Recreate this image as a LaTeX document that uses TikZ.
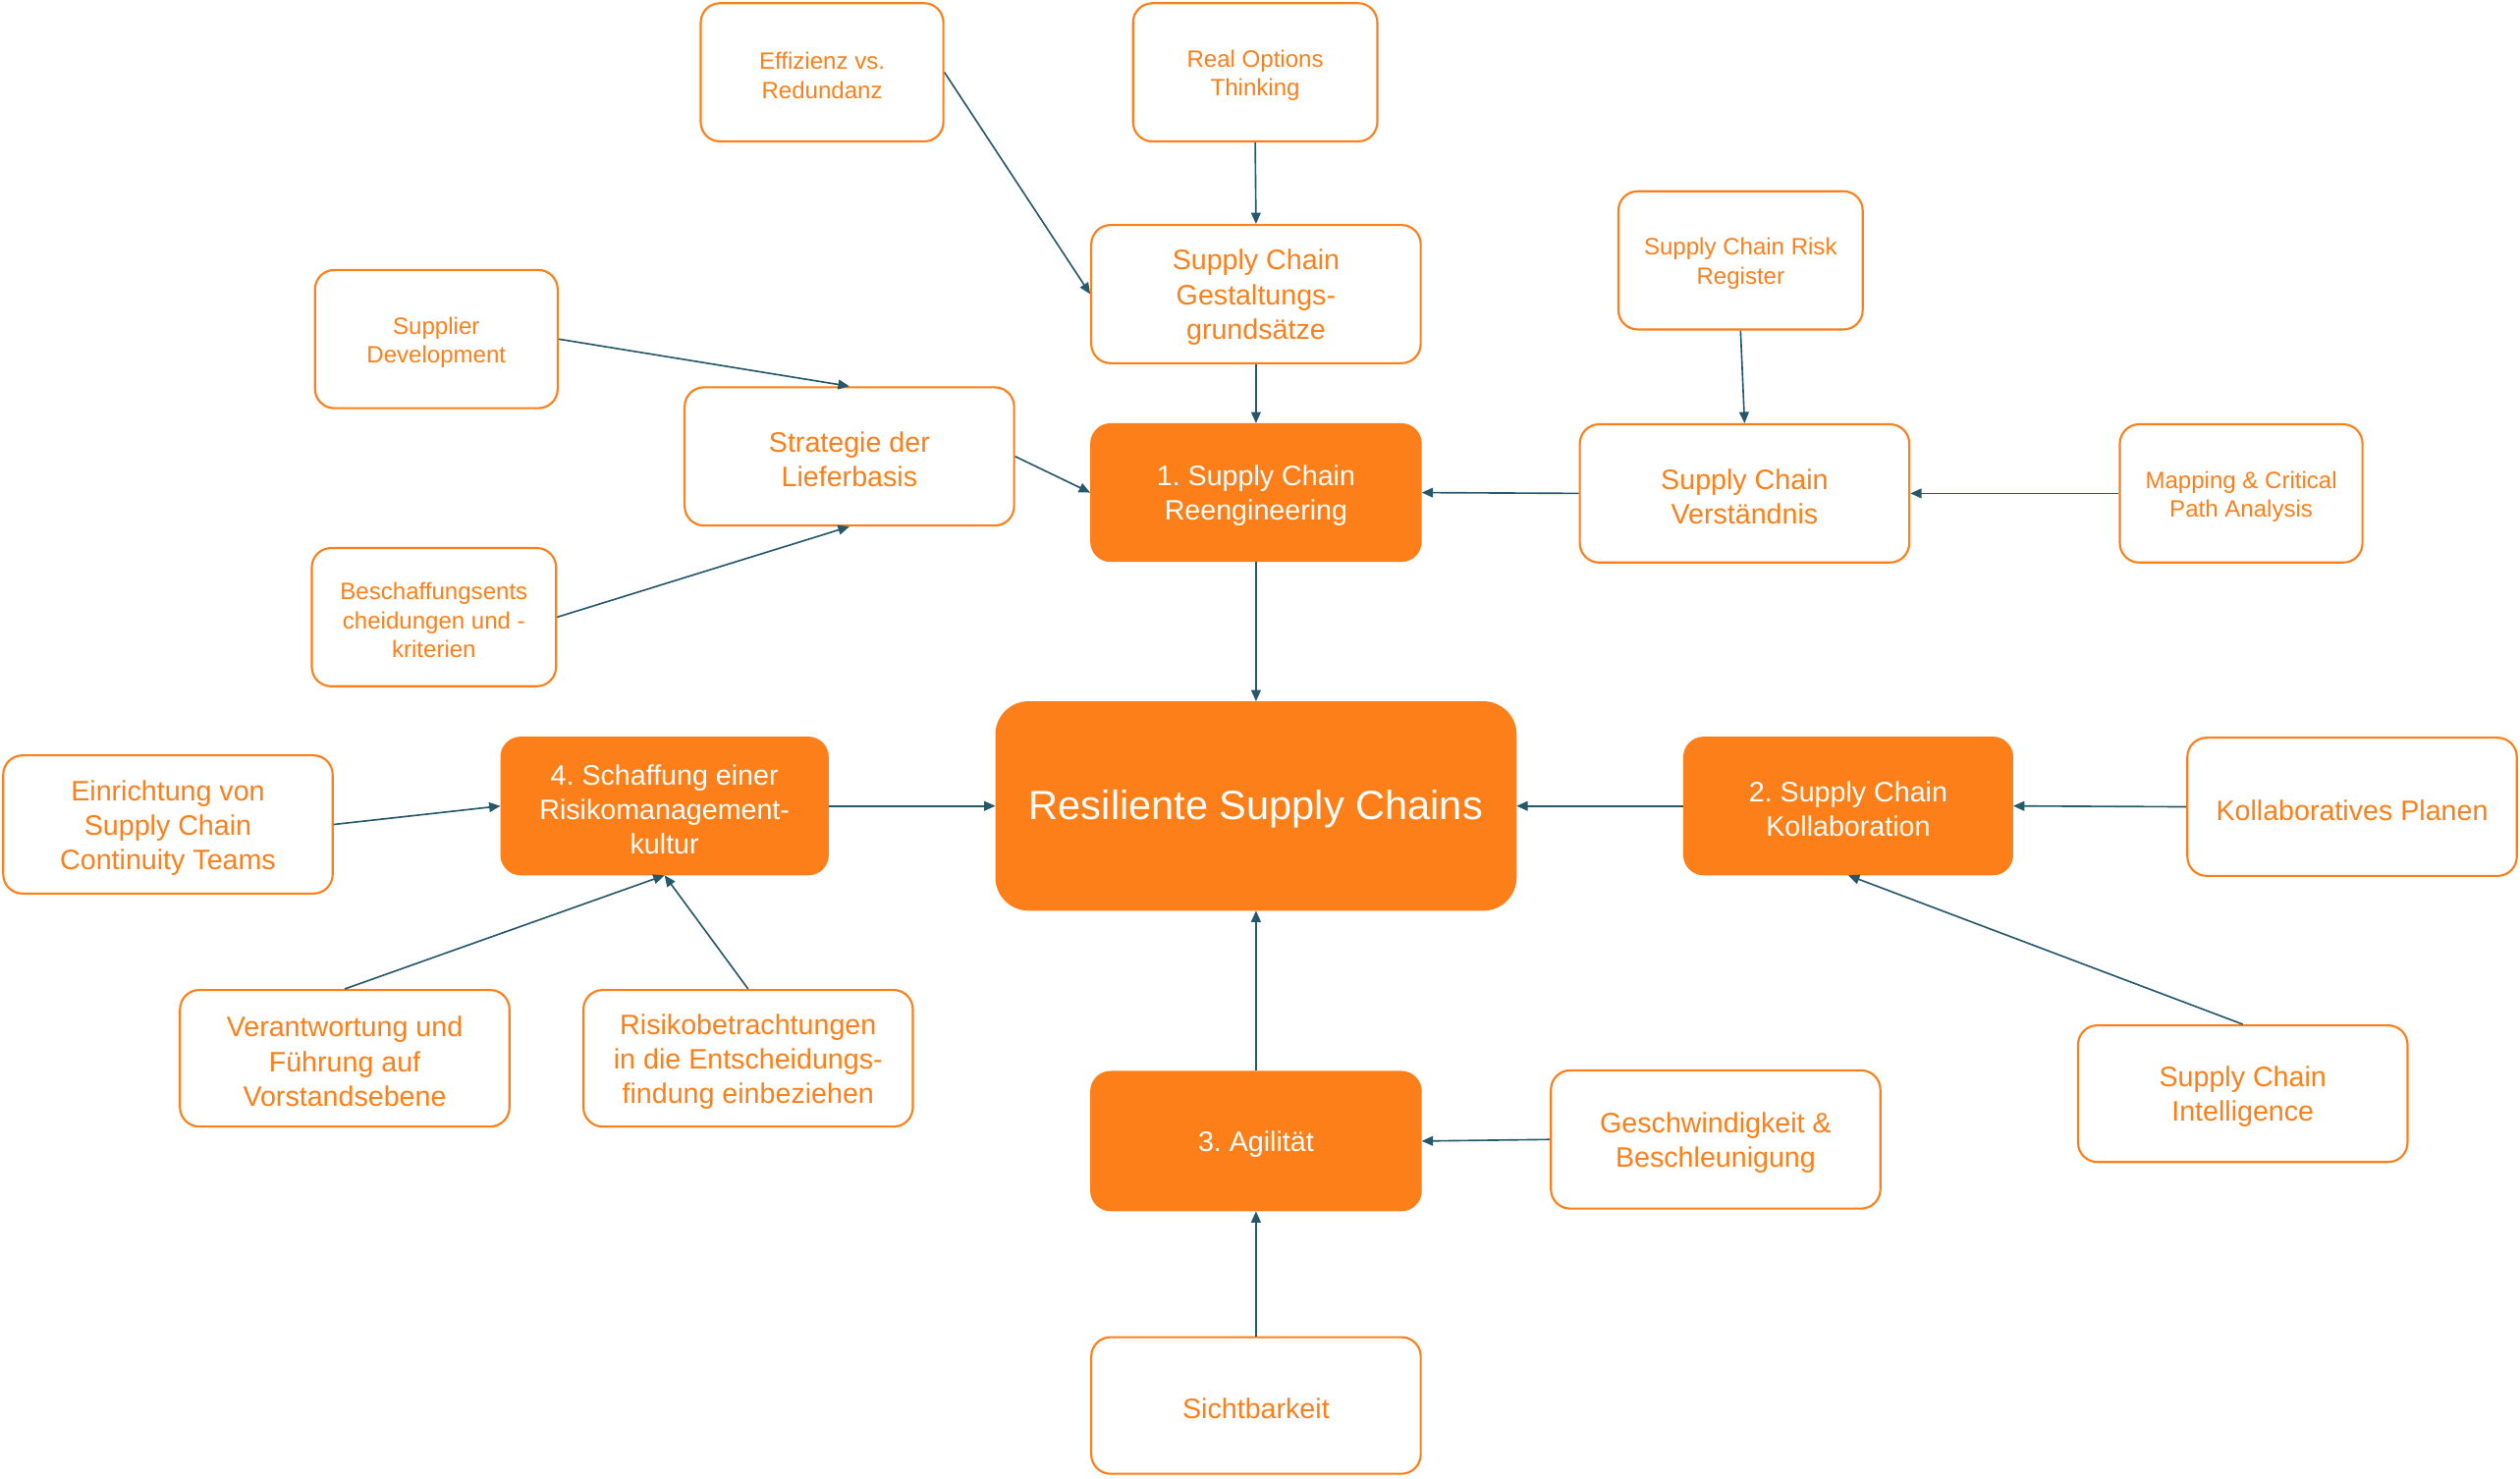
\documentclass[tikz,border=0pt]{standalone}
\usepackage{fontspec}
\setmainfont{Liberation Sans}
\frenchspacing
\usetikzlibrary{arrows.meta}
\definecolor{org}{RGB}{253,127,25}
\definecolor{arr}{RGB}{38,88,107}
\tikzset{
  box/.style={draw=org, line width=1.3pt, rounded corners=12pt, fill=white, text=org, align=center, inner sep=0pt},
  sbox/.style={box, font=\fontsize{14.7}{18}\selectfont},
  lbox/.style={box, font=\fontsize{17.5}{21.5}\selectfont},
  filledbox/.style={lbox, fill=org, text=white},
  conn/.style={draw=arr, line width=1pt, -{Triangle[length=7pt,width=6pt]}},
}
\newcommand\mkbox[7]{%
  \node[#6, minimum width={(#4-#2)*1pt}, minimum height={(#5-#3)*1pt}] (#1) at ({(#2+#4)/2},{(#3+#5)/2}) {};
  \node[#6, draw=none, fill=none, rounded corners=0pt] at ([yshift=-2pt]#1.center) {#7};}
\begin{document}
\begin{tikzpicture}[x=1pt,y=-1pt]
\useasboundingbox (0,0) rectangle (1568,920);
\mkbox{eff}{436}{2}{587}{88}{sbox}{Effizienz vs.\\Redundanz}
\mkbox{rot}{705}{2}{857}{88}{sbox}{Real Options\\Thinking}
\mkbox{ges}{679}{140}{884}{226}{lbox}{Supply Chain\\Gestaltungs-\\grundsätze}
\mkbox{reg}{1007}{119}{1159}{205}{sbox}{Supply Chain Risk\\Register}
\mkbox{sup}{196}{168}{347}{254}{sbox}{Supplier\\Development}
\mkbox{str}{426}{241}{631}{327}{lbox}{Strategie der\\Lieferbasis}
\mkbox{ree}{679}{264}{884}{349}{filledbox}{1. Supply Chain\\Reengineering}
\mkbox{ver}{983}{264}{1188}{350}{lbox}{Supply Chain\\Verständnis}
\mkbox{map}{1319}{264}{1470}{350}{sbox}{Mapping \& Critical\\Path Analysis}
\mkbox{bes}{194}{341}{346}{427}{sbox}{Beschaffungsents\\cheidungen und -\\kriterien}
\mkbox{ein}{2}{470}{207}{556}{lbox}{Einrichtung von\\Supply Chain\\Continuity Teams}
\mkbox{sch}{312}{459}{515}{544}{filledbox}{4. Schaffung einer\\Risikomanagement-\\kultur}
\mkbox{res}{620}{437}{943}{566}{filledbox, rounded corners=20pt, font=\fontsize{25.4}{30}\selectfont}{Resiliente Supply Chains}
\mkbox{kol}{1048}{459}{1252}{544}{filledbox}{2. Supply Chain\\Kollaboration}
\mkbox{kpl}{1361}{459}{1566}{545}{lbox}{Kollaboratives Planen}
\mkbox{vfa}{112}{616}{317}{701}{lbox}{Verantwortung und\\Führung auf\\Vorstandsebene}
\mkbox{rbe}{363}{616}{568}{701}{lbox}{Risikobetrachtungen\\in die Entscheidungs-\\findung einbeziehen}
\mkbox{int}{1293}{638}{1498}{723}{lbox}{Supply Chain\\Intelligence}
\mkbox{agi}{679}{667}{884}{753}{filledbox}{3. Agilität}
\mkbox{gsw}{965}{666}{1170}{752}{lbox}{Geschwindigkeit \&\\Beschleunigung}
\mkbox{sic}{679}{832}{884}{917}{lbox}{Sichtbarkeit}

\draw[conn] (eff.east) -- (ges.west);
\draw[conn] (rot.south) -- (ges.north);
\draw[conn] (ges.south) -- (ree.north);
\draw[conn] (reg.south) -- (ver.north);
\draw[conn] (sup.east) -- (str.north);
\draw[conn] (bes.east) -- (str.south);
\draw[conn] (str.east) -- (ree.west);
\draw[conn] (ver.west) -- (ree.east);
\draw[conn] (map.west) -- (ver.east);
\draw[conn] (ree.south) -- (res.north);
\draw[conn] (sch.east) -- (res.west);
\draw[conn] (kol.west) -- (res.east);
\draw[conn] (kpl.west) -- (kol.east);
\draw[conn] (int.north) -- (kol.south);
\draw[conn] (agi.north) -- (res.south);
\draw[conn] (gsw.west) -- (agi.east);
\draw[conn] (sic.north) -- (agi.south);
\draw[conn] (ein.east) -- (sch.west);
\draw[conn] (vfa.north) -- (sch.south);
\draw[conn] (rbe.north) -- (sch.south);
\end{tikzpicture}
\end{document}
